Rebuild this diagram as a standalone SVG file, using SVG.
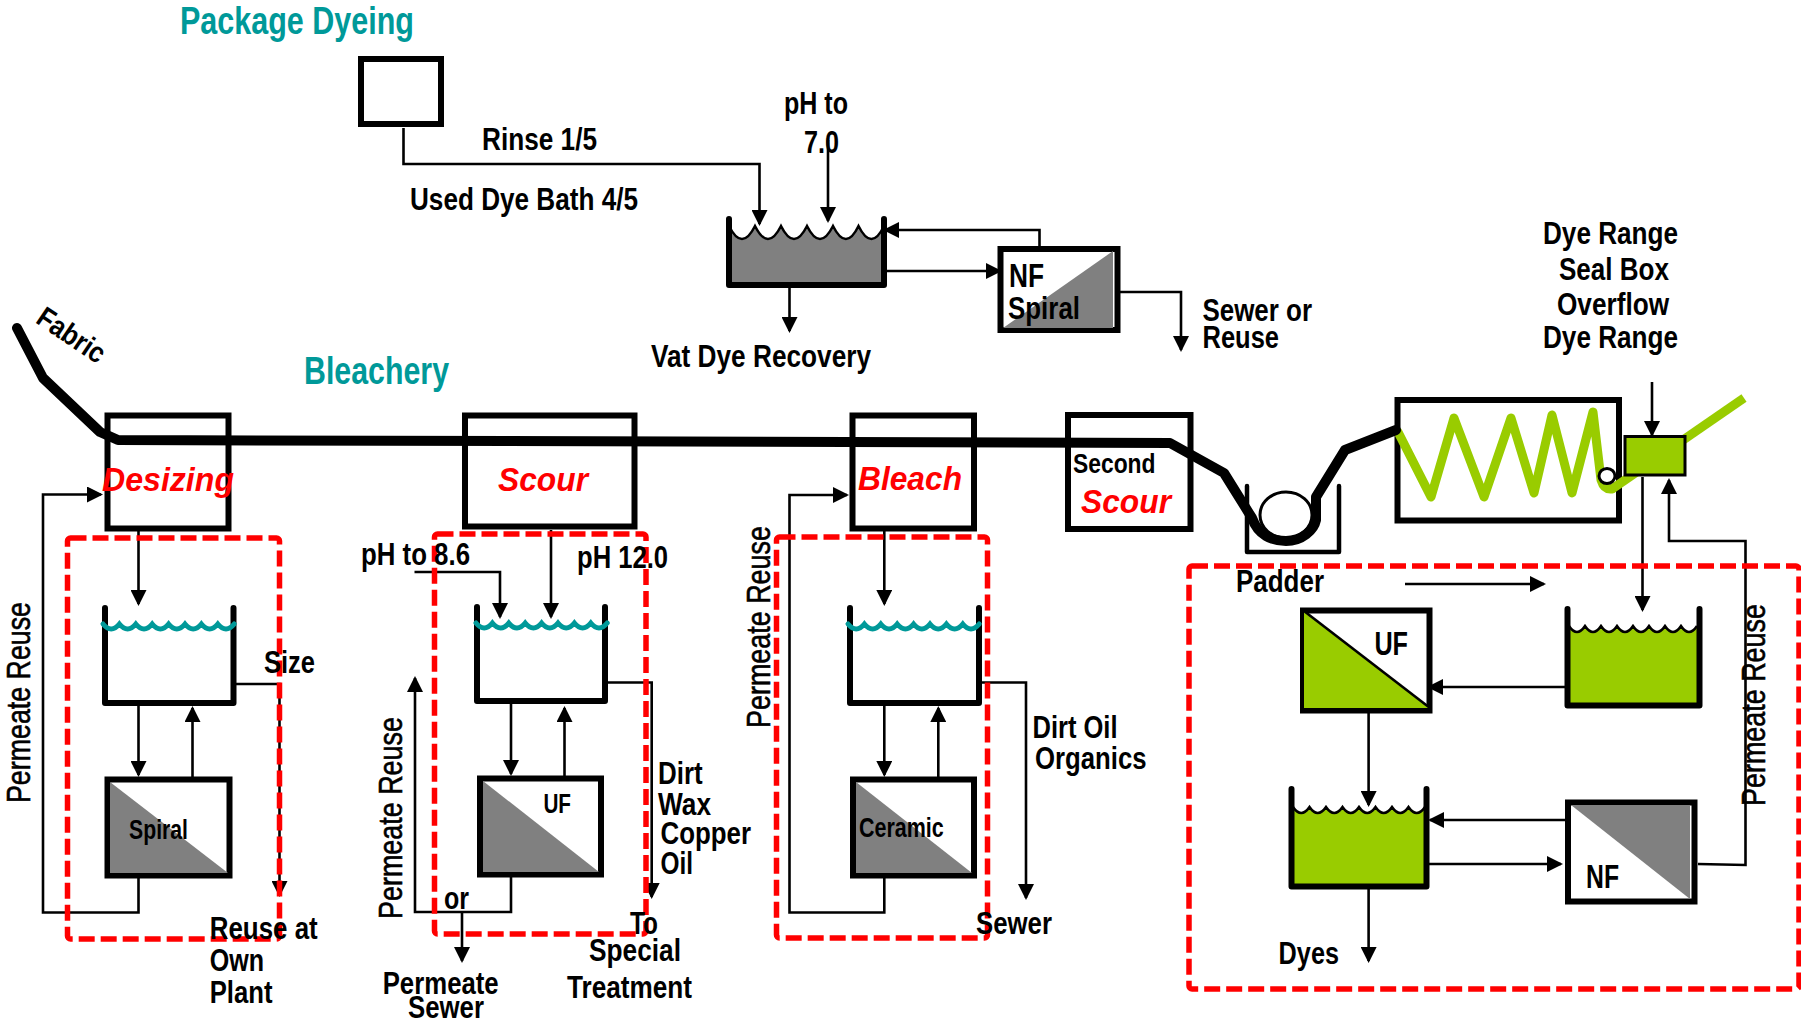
<svg xmlns="http://www.w3.org/2000/svg" width="1801" height="1022" viewBox="0 0 1801 1022">
<style>
text{font-family:"Liberation Sans",Arial,sans-serif;font-weight:bold;fill:#000;font-size:32px}
.title{fill:#009999;font-size:39px}
.proc{fill:#f00;font-style:italic;font-size:33px}
.rot{font-weight:normal;font-size:33px;stroke:#000;stroke-width:.6}
.box{fill:#fff;stroke:#000;stroke-width:6}
.wall{fill:none;stroke:#000;stroke-width:6;stroke-linejoin:round;stroke-linecap:round}
.teal{fill:none;stroke:#009999;stroke-width:5;stroke-linecap:round}
.wave{fill:none;stroke:#000;stroke-width:2.5}
.gray{fill:#808080}
.green{fill:#99cc00}
.conn{fill:none;stroke:#000;stroke-width:2.6}
.arr{marker-end:url(#ah)}
.red{fill:none;stroke:#f00;stroke-width:5.5;stroke-dasharray:16 6}
</style>
<defs>
<marker id="ah" markerUnits="userSpaceOnUse" markerWidth="16" markerHeight="16" viewBox="0 0 16 16" refX="14" refY="8" orient="auto"><path d="M0,0L16,8L0,16Z" fill="#000"/></marker>
</defs>
<rect width="1801" height="1022" fill="#fff"/>

<g id="package-box"><rect class="box" x="361" y="59" width="80" height="65"/></g>
<g id="vat-tank">
<path class="gray" d="M729,226q13,26 26,0q13,26 26,0q13,26 26,0q13,26 26,0q13,26 25.500,0q13,26 25.500,0V287H729Z"/>
<path class="wave" d="M729,226q13,26 26,0q13,26 26,0q13,26 26,0q13,26 26,0q13,26 25.500,0q13,26 25.500,0"/>
<path class="wall" d="M729,219V285H884V219"/>
</g>
<g id="nf-spiral">
<rect class="box" x="1000.500" y="249" width="117" height="81"/>
<path class="gray" d="M1113,251V328H1003Z"/>
<text x="1009" y="287" style="font-size:34px" textLength="35" lengthAdjust="spacingAndGlyphs">NF</text>
<text x="1008" y="319" textLength="72" lengthAdjust="spacingAndGlyphs">Spiral</text>
</g>

<g id="desizing"><rect class="box" x="107.500" y="415.500" width="121" height="113"/><text class="proc" x="102" y="491" textLength="132" lengthAdjust="spacingAndGlyphs">Desizing</text></g>
<g id="scour"><rect class="box" x="465" y="415.500" width="169.500" height="111"/><text class="proc" x="498" y="491" textLength="90" lengthAdjust="spacingAndGlyphs">Scour</text></g>
<g id="bleach"><rect class="box" x="852.500" y="415.500" width="121.500" height="113"/><text class="proc" x="858" y="490" textLength="104" lengthAdjust="spacingAndGlyphs">Bleach</text></g>
<g id="second-scour"><rect class="box" x="1068" y="415" width="122.500" height="114"/>
<text x="1073" y="473" style="font-size:28px" textLength="82.500" lengthAdjust="spacingAndGlyphs">Second</text>
<text class="proc" x="1081" y="513" textLength="90" lengthAdjust="spacingAndGlyphs">Scour</text></g>
<g id="padder"><path class="wall" style="stroke-width:4.500" d="M1247,486V552H1339V486"/><ellipse cx="1286" cy="515" rx="26" ry="23" fill="#fff" stroke="#000" stroke-width="3"/></g>
<g id="dye-range"><rect class="box" x="1397.500" y="400" width="221.500" height="120.500"/></g>

<g id="desizing-tank"><path class="wall" d="M105,608V703H233.500V608"/><path class="teal" d="M103,624q8.200,10 16.400,0q8.200,10 16.400,0q8.200,10 16.400,0q8.200,10 16.400,0q8.200,10 16.400,0q8.200,10 16.400,0q8.200,10 16.400,0q8.200,10 16.400,0"/></g>
<g id="spiral-module"><rect class="box" x="107.500" y="779.500" width="122" height="96"/><path class="gray" d="M110,782V873H228Z"/><text x="129" y="839" style="font-size:28px" textLength="59" lengthAdjust="spacingAndGlyphs">Spiral</text></g>
<g id="scour-tank"><path class="wall" d="M477,607V701H605V607"/><path class="teal" d="M476,623q8.200,10 16.400,0q8.200,10 16.400,0q8.200,10 16.400,0q8.200,10 16.400,0q8.200,10 16.400,0q8.200,10 16.400,0q8.200,10 16.400,0q8.200,10 16.400,0"/></g>
<g id="uf-module"><rect class="box" x="480" y="778.500" width="121" height="96"/><path class="gray" d="M483,781V872H599Z"/><text x="543.400" y="812.500" style="font-size:27px" textLength="27.600" lengthAdjust="spacingAndGlyphs">UF</text></g>
<g id="bleach-tank"><path class="wall" d="M850,608V703H979V608"/><path class="teal" d="M848,624q8.200,10 16.400,0q8.200,10 16.400,0q8.200,10 16.400,0q8.200,10 16.400,0q8.200,10 16.400,0q8.200,10 16.400,0q8.200,10 16.400,0q8.200,10 16.400,0"/></g>
<g id="ceramic-module"><rect class="box" x="853" y="779.500" width="121" height="96"/><path class="gray" d="M856,782V873H972Z"/><text x="859" y="837" style="font-size:27px" textLength="84.700" lengthAdjust="spacingAndGlyphs">Ceramic</text></g>

<g id="green-tank-upper">
<path class="green" d="M1569,626q8,12 16,0q8,12 16,0q8,12 16,0q8,12 16,0q8,12 16,0q8,12 16,0q8,12 16,0q8,12 16,0V706H1569Z"/>
<path class="wave" d="M1569,626q8,12 16,0q8,12 16,0q8,12 16,0q8,12 16,0q8,12 16,0q8,12 16,0q8,12 16,0q8,12 16,0"/>
<path class="wall" d="M1567.500,609V705.500H1699.500V609"/></g>
<g id="uf-green"><rect class="box" x="1303" y="610.500" width="126.500" height="100"/><path class="green" d="M1304,611L1430,708H1304Z"/><path class="conn" d="M1304,611L1430,708"/><text x="1374.400" y="655" style="font-size:34px" textLength="33.600" lengthAdjust="spacingAndGlyphs">UF</text></g>
<g id="green-tank-lower">
<path class="green" d="M1293,807q8.200,12 16.500,0q8.200,12 16.500,0q8.200,12 16.500,0q8.200,12 16.500,0q8.200,12 16.500,0q8.200,12 16.500,0q8.200,12 16.500,0q8.200,12 16.500,0V887H1293Z"/>
<path class="wave" d="M1293,807q8.200,12 16.500,0q8.200,12 16.500,0q8.200,12 16.500,0q8.200,12 16.500,0q8.200,12 16.500,0q8.200,12 16.500,0q8.200,12 16.500,0q8.200,12 16.500,0"/>
<path class="wall" d="M1291.500,789V886.500H1426.500V789"/></g>
<g id="nf-module"><rect class="box" x="1568" y="802.500" width="126.500" height="99"/><path class="gray" d="M1571,805H1690V899Z"/><text x="1586" y="888" style="font-size:34px" textLength="33" lengthAdjust="spacingAndGlyphs">NF</text></g>

<g id="fabric">
<path fill="none" stroke="#99cc00" stroke-width="9" stroke-linejoin="round" stroke-linecap="round" d="M1398,432L1431,497L1454,418L1484,497L1511,418L1534,493L1552,415L1572,493L1593,412L1601,480Q1604,490 1612,489"/>
<path fill="none" stroke="#99cc00" stroke-width="9" d="M1612,489L1744,398"/>
<path fill="none" stroke="#000" stroke-width="10" stroke-linejoin="round" stroke-linecap="round" d="M17,328L43,378L100,432L118,440L1170,443L1224,473L1252,518C1258,535 1272,541 1286,541C1302,541 1314,530 1316,520V497L1345,450L1396,430"/>
<ellipse cx="1607" cy="476" rx="8" ry="7.500" fill="#fff" stroke="#000" stroke-width="3"/>
</g>
<g id="seal-box"><rect x="1625" y="436.500" width="60" height="38.500" fill="#99cc00" stroke="#000" stroke-width="3"/></g>

<g id="connectors">
<path class="conn arr" d="M403.500,128V164H759.500V224"/>
<path class="conn arr" d="M828,140V221"/>
<path class="conn arr" d="M884,271H1000"/>
<path class="conn arr" d="M1039.500,246V230H885"/>
<path class="conn arr" d="M1120,292H1181V350"/>
<path class="conn arr" d="M789.500,287V331"/>
<path class="conn arr" d="M1652,382V435"/>
<path class="conn arr" d="M1642.500,477V610"/>
<path class="conn arr" d="M1698,864L1745.500,865V541H1669V480"/>
<path class="conn arr" d="M1405,584H1544"/>
<path class="conn arr" d="M1567,687H1429"/>
<path class="conn arr" d="M1368.600,713V805"/>
<path class="conn arr" d="M1566,820H1430"/>
<path class="conn arr" d="M1428,864H1561"/>
<path class="conn arr" d="M1368.600,889V961"/>
<path class="conn arr" d="M138.500,530V604"/>
<path class="conn arr" d="M138.500,705V775"/>
<path class="conn arr" d="M192.500,777V708"/>
<path class="conn arr" d="M233.500,684H279.500V895"/>
<path class="conn arr" d="M138.500,878V912.500H43V494.500H101"/>
<path class="conn arr" d="M414.500,572H500V617"/>
<path class="conn arr" d="M551,530V617"/>
<path class="conn arr" d="M511,703V774"/>
<path class="conn arr" d="M564.500,776V708"/>
<path class="conn arr" d="M605,682.500H651.700V897"/>
<path class="conn arr" d="M511,877V912H415V678"/>
<path class="conn arr" d="M462,912V961"/>
<path class="conn arr" d="M884.300,530V604"/>
<path class="conn arr" d="M884.300,705V775"/>
<path class="conn arr" d="M938.300,777V708"/>
<path class="conn arr" d="M979,682.500H1026V898"/>
<path class="conn arr" d="M884.300,878V912.500H789.500V495H847"/>
</g>

<g id="red-boxes">
<rect class="red" x="67.500" y="538" width="212" height="401" rx="3"/>
<rect class="red" x="434.500" y="534" width="211.500" height="400" rx="3"/>
<rect class="red" x="776.500" y="537" width="211" height="401" rx="3"/>
<rect class="red" x="1189" y="566" width="610" height="423" rx="3"/>
</g>

<g id="labels">
<text class="title" x="180" y="34" textLength="234" lengthAdjust="spacingAndGlyphs">Package Dyeing</text>
<text class="title" x="304" y="384" textLength="145" lengthAdjust="spacingAndGlyphs">Bleachery</text>
<text x="784" y="114" textLength="64" lengthAdjust="spacingAndGlyphs">pH to</text>
<text x="804" y="153" textLength="35" lengthAdjust="spacingAndGlyphs">7.0</text>
<text x="482" y="150" textLength="115" lengthAdjust="spacingAndGlyphs">Rinse 1/5</text>
<text x="410" y="210" textLength="228" lengthAdjust="spacingAndGlyphs">Used Dye Bath 4/5</text>
<text x="651" y="367" textLength="220" lengthAdjust="spacingAndGlyphs">Vat Dye Recovery</text>
<text x="1202.500" y="321" textLength="109.500" lengthAdjust="spacingAndGlyphs">Sewer or</text>
<text x="1202.500" y="348" textLength="76.500" lengthAdjust="spacingAndGlyphs">Reuse</text>
<text x="1543" y="244" textLength="135" lengthAdjust="spacingAndGlyphs">Dye Range</text>
<text x="1559" y="280" textLength="110" lengthAdjust="spacingAndGlyphs">Seal Box</text>
<text x="1557" y="315" textLength="112" lengthAdjust="spacingAndGlyphs">Overflow</text>
<text x="1543" y="348" textLength="135" lengthAdjust="spacingAndGlyphs">Dye Range</text>
<text transform="translate(34.500,322) rotate(34)" style="font-size:29px" textLength="76" lengthAdjust="spacingAndGlyphs">Fabric</text>
<text x="1236" y="591.500" textLength="88" lengthAdjust="spacingAndGlyphs">Padder</text>
<text x="1278.600" y="964" textLength="60.400" lengthAdjust="spacingAndGlyphs">Dyes</text>
<text x="264" y="672.500" textLength="51" lengthAdjust="spacingAndGlyphs">Size</text>
<text x="209.700" y="938.500" textLength="108" lengthAdjust="spacingAndGlyphs">Reuse at</text>
<text x="209.700" y="971" textLength="54.300" lengthAdjust="spacingAndGlyphs">Own</text>
<text x="209.700" y="1003" textLength="62.800" lengthAdjust="spacingAndGlyphs">Plant</text>
<text x="361" y="565" textLength="109" lengthAdjust="spacingAndGlyphs">pH to 8.6</text>
<text x="577" y="567.500" textLength="91" lengthAdjust="spacingAndGlyphs">pH 12.0</text>
<text x="658" y="784" textLength="44.600" lengthAdjust="spacingAndGlyphs">Dirt</text>
<text x="658" y="815" textLength="53" lengthAdjust="spacingAndGlyphs">Wax</text>
<text x="660.500" y="843.500" textLength="90.500" lengthAdjust="spacingAndGlyphs">Copper</text>
<text x="660.500" y="873.500" textLength="32.500" lengthAdjust="spacingAndGlyphs">Oil</text>
<text x="630" y="933.500" textLength="28" lengthAdjust="spacingAndGlyphs">To</text>
<text x="589" y="961" textLength="92" lengthAdjust="spacingAndGlyphs">Special</text>
<text x="567" y="997.500" textLength="125" lengthAdjust="spacingAndGlyphs">Treatment</text>
<text x="444" y="909" textLength="25" lengthAdjust="spacingAndGlyphs">or</text>
<text x="382.700" y="993.500" textLength="116" lengthAdjust="spacingAndGlyphs">Permeate</text>
<text x="408" y="1018" textLength="76" lengthAdjust="spacingAndGlyphs">Sewer</text>
<text x="1032.500" y="738" textLength="85" lengthAdjust="spacingAndGlyphs">Dirt Oil</text>
<text x="1035" y="769" textLength="111.500" lengthAdjust="spacingAndGlyphs">Organics</text>
<text x="976" y="934" textLength="76" lengthAdjust="spacingAndGlyphs">Sewer</text>
<text class="rot" transform="translate(30,803) rotate(-90)" textLength="201" lengthAdjust="spacingAndGlyphs">Permeate Reuse</text>
<text class="rot" transform="translate(402,919) rotate(-90)" textLength="202" lengthAdjust="spacingAndGlyphs">Permeate Reuse</text>
<text class="rot" transform="translate(770,728) rotate(-90)" textLength="202" lengthAdjust="spacingAndGlyphs">Permeate Reuse</text>
<text class="rot" transform="translate(1765,806) rotate(-90)" textLength="202" lengthAdjust="spacingAndGlyphs">Permeate Reuse</text>
</g>
</svg>
